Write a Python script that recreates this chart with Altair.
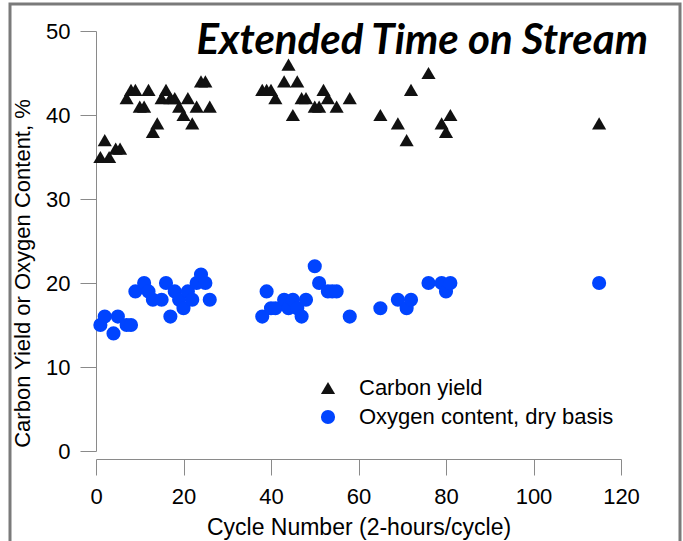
import altair as alt
import pandas as pd

carbon_cycle = [1, 2, 3, 4.5, 5.5, 7, 8, 9, 10, 11, 12, 13, 14, 15, 16, 17, 18, 19, 20,
                21, 22, 23, 24, 25, 26, 38, 39, 40, 41, 43, 44, 45, 46, 47, 48,
                50, 51, 52, 53, 55, 58, 65, 69, 71, 72, 76, 79, 80, 81, 115]
carbon_yield = [35, 37, 35, 36, 36, 42, 43, 43, 41, 41, 43, 38, 39, 42, 43, 42, 42, 41, 40,
                42, 39, 41, 44, 44, 41, 43, 43, 43, 42, 44, 46, 40, 44, 42, 42,
                41, 41, 43, 42, 41, 42, 40, 39, 37, 43, 45, 39, 38, 40, 39]

oxygen_cycle = [1, 2, 4, 5, 7, 8, 9, 11, 12, 13, 15, 16, 17, 18, 19, 20, 21, 22, 23, 24, 25, 26,
                38, 39, 40, 41, 43, 44, 45, 46, 47, 48, 50, 51, 53, 54, 55, 58,
                65, 69, 71, 72, 76, 79, 80, 81, 115]
oxygen_content = [15, 16, 14, 16, 15, 15, 19, 20, 19, 18, 18, 20, 16, 19, 18, 17, 19, 18, 20, 21, 20, 18,
                  16, 19, 17, 17, 18, 17, 18, 17, 16, 18, 22, 20, 19, 19, 19, 16,
                  17, 18, 17, 18, 20, 20, 19, 20, 20]

series_names = ["Carbon yield", "Oxygen content, dry basis"]
x_ticks = [0, 20, 40, 60, 80, 100, 120]
y_ticks = [0, 10, 20, 30, 40, 50]
chart_title = "Extended Time on Stream"

df = pd.concat([
    pd.DataFrame({"cycle": carbon_cycle, "value": carbon_yield, "series": series_names[0]}),
    pd.DataFrame({"cycle": oxygen_cycle, "value": oxygen_content, "series": series_names[1]}),
], ignore_index=True)

FONT = "Liberation Sans"
GREY = "#8a8a8a"

leg = alt.Legend(title=None, orient="none", legendX=221, legendY=346, padding=0,
                 labelFontSize=22, labelFont=FONT, labelColor="black", labelLimit=400,
                 symbolSize=200, rowPadding=7, labelOffset=20, symbolStrokeWidth=0)

frame = alt.Chart(pd.DataFrame({"k": [0]})).mark_rect(
    fill="transparent", stroke="#7a7a7a", strokeWidth=3
).encode(x=alt.value(-86), x2=alt.value(584), y=alt.value(-27), y2=alt.value(540))

title_mark = alt.Chart(pd.DataFrame({"k": [0]})).mark_text(
    text=chart_title, font="Lato", fontSize=42, fontStyle="italic", fontWeight="bold",
    align="right", baseline="alphabetic", color="black"
).encode(x=alt.value(552), y=alt.value(23))

points = alt.Chart(df).mark_point(filled=True, opacity=1, size=200).encode(
    x=alt.X("cycle:Q",
            scale=alt.Scale(domain=[0, 120], nice=False, zero=False),
            axis=alt.Axis(values=x_ticks, title="Cycle Number (2-hours/cycle)", offset=8,
                          tickSize=16, labelPadding=11, labelFlush=False, grid=False,
                          domainColor=GREY, tickColor=GREY, labelFont=FONT, labelFontSize=22,
                          labelColor="black", titleFont=FONT, titleFontSize=23,
                          titleFontWeight="normal", titleColor="black",
                          titleY=68, titleBaseline="middle")),
    y=alt.Y("value:Q",
            scale=alt.Scale(domain=[0, 50], nice=False),
            axis=alt.Axis(values=y_ticks, title="Carbon Yield or Oxygen Content, %",
                          tickSize=16, labelPadding=10, grid=False,
                          domainColor=GREY, tickColor=GREY, labelFont=FONT, labelFontSize=22,
                          labelColor="black", titleFont=FONT, titleFontSize=22,
                          titleFontWeight="normal", titleColor="black",
                          titleX=-74, titleY=242, titleAngle=270, titleAlign="center",
                          titleBaseline="middle")),
    color=alt.Color("series:N", scale=alt.Scale(domain=series_names, range=["#111111", "#0044FF"]),
                    legend=leg),
    shape=alt.Shape("series:N", scale=alt.Scale(domain=series_names, range=["triangle-up", "circle"]),
                    legend=leg),
)

chart = alt.layer(frame, points, title_mark).properties(
    width=525, height=420,
    autosize=alt.AutoSizeParams(type="none"),
    padding={"left": 96, "top": 31, "right": 62, "bottom": 90},
).configure_view(stroke="transparent")

chart.save("out.html", embed_options={"renderer": "svg", "actions": False})
